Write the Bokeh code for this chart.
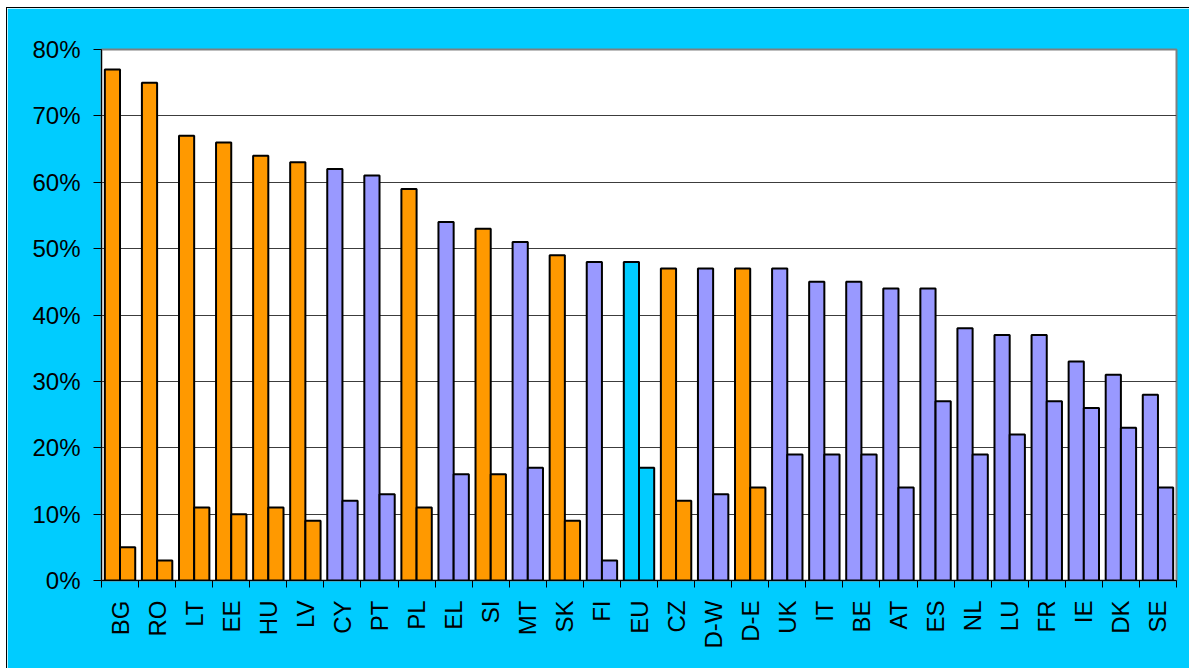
import numpy as np
from bokeh.plotting import figure
from bokeh.models import ColumnDataSource, FixedTicker, PrintfTickFormatter, Range1d
from bokeh.transform import dodge
from bokeh.embed import file_html
from bokeh.resources import INLINE

categories = ["BG", "RO", "LT", "EE", "HU", "LV", "CY", "PT", "PL", "EL", "SI", "MT", "SK", "FI",
              "EU", "CZ", "D-W", "D-E", "UK", "IT", "BE", "AT", "ES", "NL", "LU", "FR", "IE", "DK", "SE"]
series_a = [77, 75, 67, 66, 64, 63, 62, 61, 59, 54, 53, 51, 49, 48,
            48, 47, 47, 47, 47, 45, 45, 44, 44, 38, 37, 37, 33, 31, 28]
series_b = [5, 3, 11, 10, 11, 9, 12, 13, 11, 16, 16, 17, 9, 3,
            17, 12, 13, 14, 19, 19, 19, 14, 27, 19, 22, 27, 26, 23, 14]
group = ["new", "new", "new", "new", "new", "new", "old", "old", "new", "old", "new", "old", "new", "old",
         "eu", "new", "old", "new", "old", "old", "old", "old", "old", "old", "old", "old", "old", "old", "old"]
y_ticks = [0, 10, 20, 30, 40, 50, 60, 70, 80]

palette = {"new": "#FF9900", "old": "#9999FF", "eu": "#00CCFF"}
colors = [palette[g] for g in group]

n = len(categories)
centers = np.arange(n) + 0.5
bw = 0.41

src = ColumnDataSource(dict(x=centers, a=series_a, b=series_b, c=colors, cat=categories))

p = figure(width=1182, height=660, output_backend="svg", toolbar_location=None,
           x_range=Range1d(0, n), y_range=Range1d(0, 80),
           min_border_left=94, min_border_top=41, min_border_right=13, min_border_bottom=88)

p.background_fill_color = "white"
p.border_fill_color = "#00CCFF"
p.outline_line_color = "#808080"
p.outline_line_width = 2
p.styles = {"margin-left": "7px", "margin-top": "8px", "outline": "1px solid black"}

p.vbar(x=dodge("x", -bw / 2), top="a", width=bw, source=src, fill_color="c",
       line_color="black", line_width=2)
p.vbar(x=dodge("x", bw / 2), top="b", width=bw, source=src, fill_color="c",
       line_color="black", line_width=2)

p.xgrid.visible = False
p.ygrid.grid_line_color = "#3c3c3c"
p.ygrid.grid_line_width = 1
p.ygrid.ticker = FixedTicker(ticks=y_ticks)

p.yaxis.ticker = FixedTicker(ticks=y_ticks)
p.yaxis.formatter = PrintfTickFormatter(format="%d%%")
p.yaxis.major_tick_out = 8
p.yaxis.major_tick_in = 0
p.yaxis.minor_tick_out = 0
p.yaxis.minor_tick_in = 0
p.yaxis.major_label_standoff = 13
p.yaxis.major_label_text_font = "Liberation Sans"
p.yaxis.major_label_text_font_size = "24px"
p.yaxis.major_label_text_color = "black"
p.yaxis.axis_line_color = "black"

p.xaxis.ticker = FixedTicker(ticks=list(centers), minor_ticks=list(range(n + 1)))
p.xaxis.major_label_overrides = {float(c): cat for c, cat in zip(centers, categories)}
p.xaxis.major_tick_out = 0
p.xaxis.major_tick_in = 0
p.xaxis.minor_tick_out = 7
p.xaxis.minor_tick_in = 0
p.xaxis.minor_tick_line_color = "black"
p.xaxis.major_label_orientation = np.pi / 2
p.xaxis.major_label_standoff = 13
p.xaxis.major_label_text_font = "Liberation Sans"
p.xaxis.major_label_text_font_size = "24px"
p.xaxis.major_label_text_color = "black"
p.xaxis.axis_line_color = "black"

open("out.html", "w").write(file_html(p, INLINE))
